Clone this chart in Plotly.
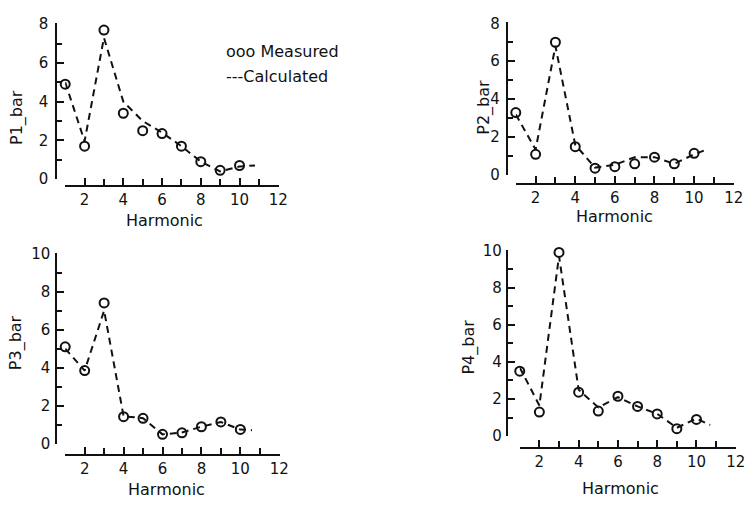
import plotly.graph_objects as go

harmonic = [1, 2, 3, 4, 5, 6, 7, 8, 9, 10]

p1_measured = [4.9, 1.7, 7.7, 3.4, 2.5, 2.35, 1.7, 0.9, 0.45, 0.7]
p1_calc_x = [1, 2, 3, 4, 5, 6, 7, 8, 9, 10, 10.8]
p1_calc = [5.0, 1.95, 7.3, 4.0, 3.0, 2.4, 1.7, 0.9, 0.4, 0.65, 0.7]

p2_measured = [3.3, 1.1, 7.0, 1.5, 0.37, 0.45, 0.6, 0.95, 0.6, 1.15]
p2_calc_x = [1, 2, 3, 4, 5, 6, 7, 8, 9, 10, 10.5]
p2_calc = [3.2, 1.35, 6.8, 1.6, 0.4, 0.55, 0.95, 0.95, 0.6, 1.1, 1.3]

p3_measured = [5.1, 3.85, 7.4, 1.43, 1.34, 0.5, 0.58, 0.9, 1.15, 0.76]
p3_calc_x = [1, 2, 3, 4, 5, 6, 7, 8, 9, 10, 10.6]
p3_calc = [5.0, 3.85, 7.0, 1.45, 1.35, 0.5, 0.6, 0.9, 1.15, 0.75, 0.72]

p4_measured = [3.5, 1.3, 9.9, 2.37, 1.35, 2.15, 1.6, 1.2, 0.4, 0.9]
p4_calc_x = [1, 2, 3, 4, 5, 6, 7, 8, 9, 10, 10.7]
p4_calc = [3.7, 1.65, 9.7, 2.5, 1.55, 2.1, 1.6, 1.2, 0.45, 0.95, 0.6]

y_titles = ["P1_bar", "P2_bar", "P3_bar", "P4_bar"]
x_title = "Harmonic"
y_max = [8, 8, 10, 10]
x_tick_vals = [2, 4, 6, 8, 10, 12]
x_tick_labels = ["2", "4", "6", "8", "10", "12"]
legend_texts = ["ooo Measured", "---Calculated"]

W, H = 756, 507
# pixel layout per panel: (x1px, x12px, y0px, ytoppx, yaxis_x_px, xaxis_y_px)
panels = [
    (66, 282, 177, 16, 57, 184),
    (522, 743, 173, 15, 513, 182),
    (66, 283, 451, 253, 57, 462),
    (526, 745, 443, 250, 513, 455),
]
# label standoffs (y tick labels, x tick labels)
ystand = [4, 3, 2, 1]
xstand = [0, 0, 0, 0]
# title centres in px
ytitle_pos = [(17, 113), (489, 103), (17, 346), (475, 351)]
xtitle_pos = [(166, 220), (622, 216), (169, 498), (628, 497)]

FONT = "DejaVu Sans, sans-serif"
INK = "#111111"
FS = 16
TFS = 15

fig = go.Figure()
series = [
    (p1_measured, p1_calc_x, p1_calc),
    (p2_measured, p2_calc_x, p2_calc),
    (p3_measured, p3_calc_x, p3_calc),
    (p4_measured, p4_calc_x, p4_calc),
]

layout = dict(
    width=W, height=H,
    margin=dict(l=0, r=0, t=0, b=0),
    paper_bgcolor="white", plot_bgcolor="white",
    showlegend=False,
    font=dict(family=FONT, size=FS, color=INK),
)

for i, ((meas, cx, cy), (x1, x12, y0, yt, yax, xay)) in enumerate(zip(series, panels)):
    n = "" if i == 0 else str(i + 1)
    xa = "x" + n
    ya = "y" + n
    fig.add_trace(go.Scatter(x=cx, y=cy, mode="lines", xaxis=xa, yaxis=ya,
                             line=dict(color=INK, width=2, dash="7px,5px"),
                             hoverinfo="skip"))
    fig.add_trace(go.Scatter(x=harmonic, y=meas, mode="markers", xaxis=xa, yaxis=ya,
                             marker=dict(symbol="circle-open", size=9, color=INK,
                                         line=dict(width=2, color=INK)),
                             cliponaxis=False))
    layout["xaxis" + n] = dict(
        domain=[x1 / W, x12 / W], range=[1, 12.02], anchor="free",
        position=1 - xay / H,
        showline=True, linewidth=2, linecolor=INK, showgrid=False, zeroline=False,
        tickmode="array", tickvals=x_tick_vals, ticktext=x_tick_labels,
        ticks="inside", ticklen=7, tickwidth=2, tickcolor=INK,
        ticklabelstandoff=xstand[i],
        minor=dict(tickmode="array", tickvals=[1, 3, 5, 7, 9, 11], ticks="inside",
                   ticklen=6, tickwidth=2, tickcolor=INK),
        tickfont=dict(size=TFS, family=FONT, color=INK),
    )
    layout["yaxis" + n] = dict(
        domain=[1 - y0 / H, 1 - yt / H], range=[0, y_max[i] * 1.005], anchor="free",
        position=yax / W,
        showline=True, linewidth=2, linecolor=INK, showgrid=False, zeroline=False,
        tickmode="linear", tick0=0, dtick=2,
        ticks="inside", ticklen=7, tickwidth=2, tickcolor=INK,
        ticklabelstandoff=ystand[i],
        minor=dict(dtick=1, ticks="inside", ticklen=5, tickwidth=2, tickcolor=INK),
        tickfont=dict(size=TFS, family=FONT, color=INK),
    )

fig.update_layout(**layout)

for i in range(4):
    tx, ty = ytitle_pos[i]
    fig.add_annotation(x=tx / W, y=1 - ty / H, xref="paper", yref="paper",
                       text=y_titles[i], textangle=-90, showarrow=False,
                       xanchor="center", yanchor="middle",
                       font=dict(size=FS, family=FONT, color=INK))
    hx, hy = xtitle_pos[i]
    fig.add_annotation(x=hx / W, y=1 - hy / H, xref="paper", yref="paper",
                       text=x_title, showarrow=False,
                       xanchor="center", yanchor="middle",
                       font=dict(size=FS, family=FONT, color=INK))

fig.add_annotation(x=227 / W, y=1 - 45 / H, xref="paper", yref="paper", text=legend_texts[0],
                   showarrow=False, xanchor="left", yanchor="middle",
                   font=dict(size=FS, family=FONT, color=INK))
fig.add_annotation(x=227 / W, y=1 - 71 / H, xref="paper", yref="paper", text=legend_texts[1],
                   showarrow=False, xanchor="left", yanchor="middle",
                   font=dict(size=FS, family=FONT, color=INK))

fig.write_html("out.html", config={"displayModeBar": False},
               post_script="document.body.style.margin='0';document.body.style.overflow='hidden';")
